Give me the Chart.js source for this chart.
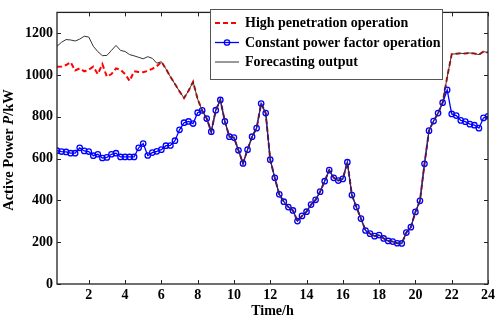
<!DOCTYPE html>
<html>
<head>
<meta charset="utf-8">
<script src="https://cdn.jsdelivr.net/npm/chart.js@4"></script>
<style>
html,body{margin:0;padding:0;background:#fff;}
#c{display:block;}
</style>
</head>
<body>
<canvas id="c" width="498" height="319"></canvas>
<script>
const hours = [0.25,0.5,0.75,1,1.25,1.5,1.75,2,2.25,2.5,2.75,3,3.25,3.5,3.75,4,4.25,4.5,4.75,5,5.25,5.5,5.75,6,
6.25,6.5,6.75,7,7.25,7.5,7.75,8,8.25,8.5,8.75,9,9.25,9.5,9.75,10,10.25,10.5,10.75,11,11.25,11.5,11.75,12,
12.25,12.5,12.75,13,13.25,13.5,13.75,14,14.25,14.5,14.75,15,15.25,15.5,15.75,16,16.25,16.5,16.75,17,17.25,17.5,17.75,18,
18.25,18.5,18.75,19,19.25,19.5,19.75,20,20.25,20.5,20.75,21,21.25,21.5,21.75,22,22.25,22.5,22.75,23,23.25,23.5,23.75,24];

const highPenetration = [1040,1041,1048,1062,1022,1032,1018,1026,1040,1005,
1052,992,1005,1032,1025,1005,972,1018,1015,1014,
1020,1030,1042,1064,1030,992,957,922,890,925,968,885,
831,792,729,832,881,778,705,701,640,577,643,705,746,864,818,595,508,429,394,368,352,301,326,346,380,403,442,492,545,508,495,503,583,426,368,313,256,241,229,234,218,206,203,195,194,246,272,345,398,575,734,780,818,868,
990,1100,1102,1104,1103,1106,1103,1098,1112,1108];

const constantPF = [638,634,632,626,626,652,637,634,614,621,
603,606,621,626,608,608,608,608,652,672,
615,629,635,643,662,663,686,738,772,778,768,820,
831,792,729,832,881,778,705,701,640,577,643,705,746,864,818,595,508,429,394,368,352,301,326,346,380,403,442,492,545,508,495,503,583,426,368,313,256,241,229,234,218,206,203,195,194,246,272,345,398,575,734,780,818,868,
929,814,806,783,777,765,760,746,795,803];

const forecasting = [1138,1157,1170,1168,1163,1172,1186,1182,1138,1112,
1093,1094,1118,1142,1118,1113,1098,1092,1085,1078,
1088,1080,1057,1064,1030,992,957,922,890,925,968,885,
831,792,729,832,881,778,705,701,640,577,643,705,746,864,818,595,508,429,394,368,352,301,326,346,380,403,442,492,545,508,495,503,583,426,368,313,256,241,229,234,218,206,203,195,194,246,272,345,398,575,734,780,818,868,
990,1100,1102,1104,1103,1106,1103,1098,1112,1108];

const seriesNames = ['High penetration operation','Constant power factor operation','Forecasting output'];
const xTickValues = [2,4,6,8,10,12,14,16,18,20,22,24];
const yTickValues = [0,200,400,600,800,1000,1200];

const FONT = 'Liberation Serif, Times New Roman, serif';
const pts = arr => arr.map((v,i)=>({x:hours[i], y:v}));

const framePlugin = {
  id:'frame',
  afterDraw(chart){
    const ctx = chart.ctx, a = chart.chartArea;
    const xs = chart.scales.x, ys = chart.scales.y;
    ctx.save();
    ctx.strokeStyle = '#222';
    ctx.lineWidth = 1.3;
    ctx.strokeRect(a.left, a.top, a.right-a.left, a.bottom-a.top);
    ctx.lineWidth = 1;
    const L = 4;
    ctx.beginPath();
    xTickValues.forEach(v=>{
      const px = Math.round(xs.getPixelForValue(v))+0.5;
      ctx.moveTo(px, a.bottom); ctx.lineTo(px, a.bottom-L);
      ctx.moveTo(px, a.top); ctx.lineTo(px, a.top+L);
    });
    yTickValues.forEach(v=>{
      const py = Math.round(ys.getPixelForValue(v))+0.5;
      ctx.moveTo(a.left, py); ctx.lineTo(a.left+L, py);
      ctx.moveTo(a.right, py); ctx.lineTo(a.right-L, py);
    });
    ctx.stroke();

    // axis titles
    ctx.fillStyle = '#000';
    ctx.font = 'bold 14px ' + FONT;
    ctx.textAlign = 'center';
    ctx.textBaseline = 'middle';
    ctx.fillText('Time/h', (a.left+a.right)/2, 311);

    ctx.save();
    ctx.translate(9, 150);
    ctx.rotate(-Math.PI/2);
    const parts = [['Active Power ','bold 14.5px '],['P','italic bold 14.5px '],['/kW','bold 14.5px ']];
    let total = 0;
    parts.forEach(p=>{ctx.font = p[1]+FONT; total += ctx.measureText(p[0]).width;});
    let xx = -total/2;
    ctx.textAlign = 'left';
    parts.forEach(p=>{ctx.font = p[1]+FONT; ctx.fillText(p[0], xx, 0); xx += ctx.measureText(p[0]).width;});
    ctx.restore();

    // legend
    const bx = 210.5, by = 9.5, bw = 232, bh = 70;
    ctx.fillStyle = '#fff';
    ctx.fillRect(bx, by, bw, bh);
    ctx.strokeStyle = '#555';
    ctx.lineWidth = 1;
    ctx.strokeRect(bx, by, bw, bh);
    const rows = [23, 42.5, 62];
    [0,1,2].forEach((di, r)=>{
      const ds = chart.data.datasets[di];
      const y = rows[r];
      ctx.save();
      ctx.strokeStyle = ds.borderColor;
      ctx.lineWidth = ds.borderWidth;
      ctx.setLineDash(ds.borderDash || []);
      ctx.beginPath(); ctx.moveTo(215, y); ctx.lineTo(239, y); ctx.stroke();
      ctx.setLineDash([]);
      if (ds.pointRadius > 0) {
        ctx.strokeStyle = ds.pointBorderColor;
        ctx.lineWidth = ds.pointBorderWidth;
        ctx.beginPath(); ctx.arc(227, y, ds.pointRadius, 0, Math.PI*2); ctx.stroke();
      }
      ctx.restore();
      ctx.fillStyle = '#000';
      ctx.font = 'bold 14px ' + FONT;
      ctx.textAlign = 'left';
      ctx.textBaseline = 'middle';
      ctx.fillText(seriesNames[di], 245, y+0.5);
    });
    ctx.restore();
  }
};

new Chart(document.getElementById('c'), {
  type:'line',
  data:{
    datasets:[
      {label:seriesNames[0], data:pts(highPenetration), borderColor:'#ff0000', borderWidth:2, borderDash:[5,3], pointRadius:0, fill:false, tension:0, order:2},
      {label:seriesNames[1], data:pts(constantPF), borderColor:'#0000ff', borderWidth:1.3, pointRadius:2.7, pointBorderColor:'#0000ff', pointBorderWidth:1.3, pointBackgroundColor:'rgba(0,0,0,0)', fill:false, tension:0, order:1},
      {label:seriesNames[2], data:pts(forecasting), borderColor:'#333333', borderWidth:1, pointRadius:0, fill:false, tension:0, order:0}
    ]
  },
  options:{
    responsive:false,
    animation:false,
    devicePixelRatio:1,
    layout:{padding:{left:0, top:2, right:9, bottom:0}},
    plugins:{legend:{display:false}, tooltip:{enabled:false}},
    scales:{
      x:{
        type:'linear', min:0.25, max:24,
        grid:{display:false, drawTicks:false},
        border:{display:false},
        afterBuildTicks(s){ s.ticks = xTickValues.map(v=>({value:v})); },
        afterFit(s){ s.height = 35; },
        ticks:{font:{family:FONT, size:14, weight:'bold'}, color:'#000', padding:3, maxRotation:0, autoSkip:false, callback:v=>String(v)}
      },
      y:{
        min:0, max:1300,
        grid:{display:false, drawTicks:false},
        border:{display:false},
        afterBuildTicks(s){ s.ticks = yTickValues.map(v=>({value:v})); },
        afterFit(s){ s.width = 57; },
        ticks:{font:{family:FONT, size:14, weight:'bold'}, color:'#000', padding:4, callback:v=>String(v)}
      }
    }
  },
  plugins:[framePlugin]
});
</script>
</body>
</html>
